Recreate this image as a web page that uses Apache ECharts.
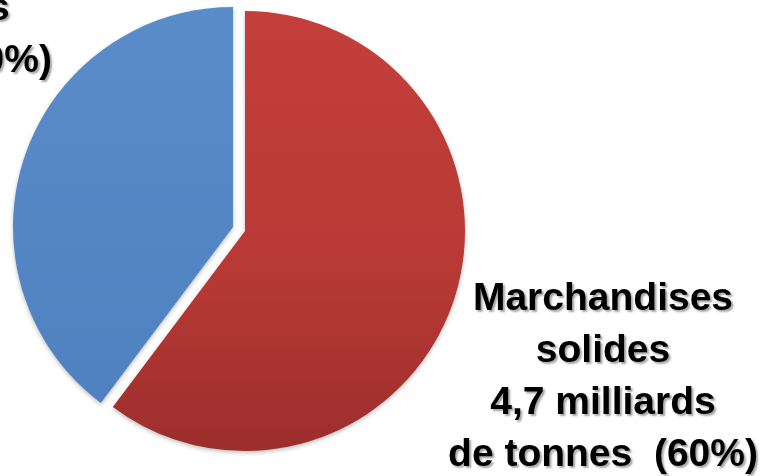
<!DOCTYPE html>
<html>
<head>
<meta charset="utf-8">
<script src="https://cdn.jsdelivr.net/npm/echarts@6/dist/echarts.min.js"></script>
<style>
  html, body { margin: 0; padding: 0; background: #fff; }
  #chart { width: 771px; height: 476px; }
</style>
</head>
<body>
<div id="chart"></div>
<script>
// data
var names = ['Marchandises solides', 'Marchandises liquides'];
var values = [4.7, 3.1];
var labels = [
  'Marchandises\nsolides\n4,7 milliards\nde tonnes  (60%)',
  'Marchandises\nliquides\n3,1 milliards\nde tonnes  (40%)'
];

// label anchor points (px), and pie centres (the solid slice is pulled out)
var labelPos = [[603, 377], [-103, -17]];
var centers = [[245, 231], [233, 227]];

var colors = [
  { type: 'linear', x: 0, y: 0, x2: 0, y2: 1,
    colorStops: [{ offset: 0, color: '#C43F3B' }, { offset: 0.6, color: '#B73935' }, { offset: 1, color: '#9C2E2C' }] },
  { type: 'linear', x: 0, y: 0, x2: 0, y2: 1,
    colorStops: [{ offset: 0, color: '#5B8CCA' }, { offset: 1, color: '#4F81C0' }] }
];

var labelStyle = {
  show: true,
  position: 'inside',
  overflow: 'none',
  formatter: function (p) { return labels[p.dataIndex]; },
  color: '#000',
  fontFamily: 'Liberation Sans',
  fontWeight: 'bold',
  fontSize: 39,
  lineHeight: 52,
  align: 'center',
  textShadowColor: 'rgba(0,0,0,0.35)',
  textShadowOffsetX: 2,
  textShadowOffsetY: 2,
  textShadowBlur: 2
};

// one pie per slice so the exploded slice keeps its own centre
var series = names.map(function (name, k) {
  return {
    type: 'pie',
    name: name,
    center: centers[k],
    radius: 220,
    startAngle: 90,
    clockwise: true,
    avoidLabelOverlap: false,
    silent: true,
    emphasis: { disabled: true },
    labelLine: { show: false },
    label: labelStyle,
    labelLayout: function (p) {
      return {
        x: labelPos[p.dataIndex][0],
        y: labelPos[p.dataIndex][1],
        align: 'center',
        verticalAlign: 'middle'
      };
    },
    data: names.map(function (n, i) {
      var shown = i === k;
      return {
        name: n,
        value: values[i],
        label: { show: shown },
        itemStyle: shown ? {
          color: colors[i],
          shadowColor: 'rgba(0,0,0,0.25)',
          shadowBlur: 4,
          shadowOffsetY: 2
        } : { color: 'rgba(0,0,0,0)' }
      };
    })
  };
});

var chart = echarts.init(document.getElementById('chart'));
chart.setOption({
  animation: false,
  series: series
});
</script>
</body>
</html>
